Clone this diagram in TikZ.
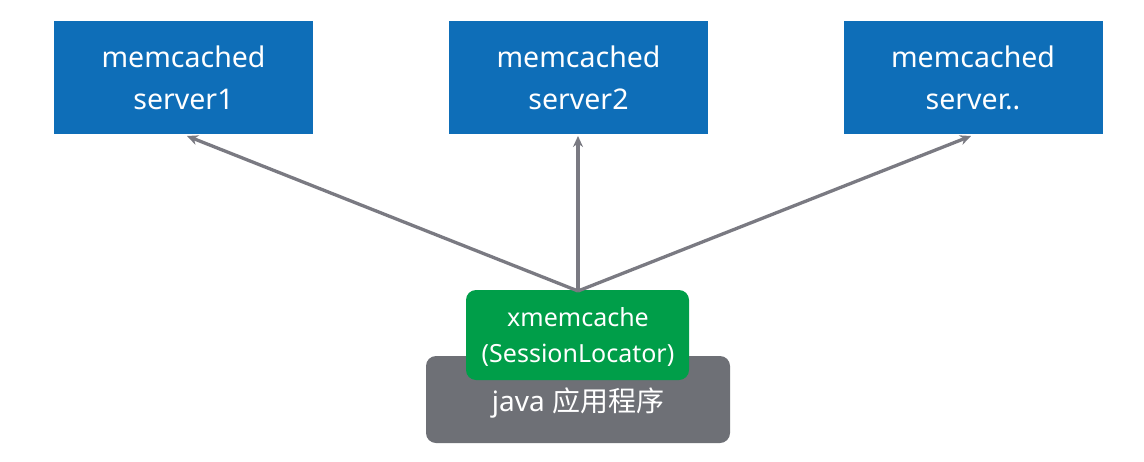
\documentclass[tikz,border=0pt]{standalone}
\usepackage{fontspec}
\usetikzlibrary{arrows.meta}
\setmainfont{Noto Sans}
\newfontfamily\cjk{Noto Sans CJK SC}
\definecolor{srvblue}{RGB}{14,110,184}
\definecolor{libgreen}{RGB}{0,158,73}
\definecolor{appgray}{RGB}{110,112,118}
\definecolor{arrgray}{RGB}{122,122,130}
\begin{document}
\begin{tikzpicture}[x=1pt,y=-1pt,
  server/.style={fill=srvblue,draw=none,text=white,minimum width=259pt,minimum height=113pt,align=center,inner sep=0pt,font=\fontsize{28.5}{42}\selectfont},
  lib/.style={fill=libgreen,draw=none,text=white,rounded corners=10pt,minimum width=223pt,minimum height=90pt,align=center,inner sep=0pt,font=\fontsize{25}{36}\selectfont},
  app/.style={fill=appgray,draw=none,text=white,rounded corners=10pt,minimum width=304pt,minimum height=87pt,inner sep=0pt},
  conn/.style={draw=arrgray,line width=3.3pt,-{Stealth[length=11pt,width=10pt]}}]
\useasboundingbox (0,0) rectangle (1144,461);
\fill[white] (0,0) rectangle (1144,461);
\node[server] (s1) at (183.5,77.5) {memcached\\server1};
\node[server] (s2) at (578.5,77.5) {memcached\\server2};
\node[server] (s3) at (973,77.5) {memcached\\server..};
\node[app] (app) at (578,399.5) {};
\node[text=white,font=\fontsize{28}{30}\selectfont] (apptext) at (578,403) {java {\cjk 应用程序}};
\node[lib] (lib) at (577.5,335) {};
\node[text=white,align=center,inner sep=0pt,font=\fontsize{25}{36}\selectfont] (libtext) at (578,337) {xmemcache\\(SessionLocator)};
\coordinate (o) at (578,291);
\coordinate (t1) at (187,136);
\coordinate (t2) at (578,136);
\coordinate (t3) at (971,136);
\draw[conn] (o) -- (t1);
\draw[conn] (o) -- (t2);
\draw[conn] (o) -- (t3);
\end{tikzpicture}
\end{document}
